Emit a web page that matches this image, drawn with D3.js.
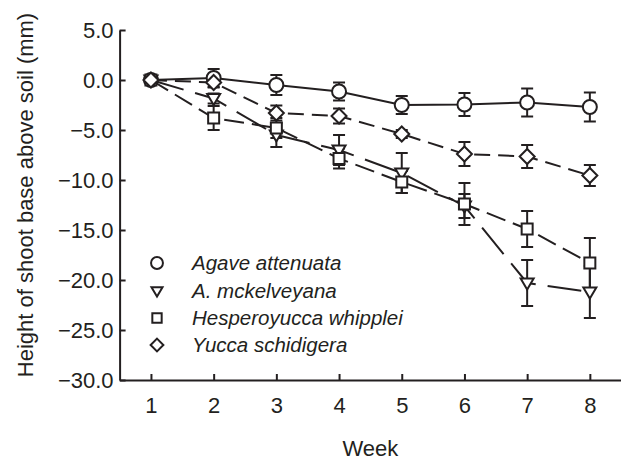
<!DOCTYPE html>
<html><head><meta charset="utf-8">
<script src="https://cdn.jsdelivr.net/npm/d3@7"></script>
<style>body{margin:0;background:#fff}</style>
</head><body><svg id="c" width="621" height="462"></svg>
<script>
const weeks = [1,2,3,4,5,6,7,8];
const species = ["Agave attenuata","A. mckelveyana","Hesperoyucca whipplei","Yucca schidigera"];
const agaveMean = [0, 0.2, -0.5, -1.15, -2.5, -2.45, -2.25, -2.7];
const agaveErr  = [0, 0.9, 1.0, 0.9, 0.9, 1.15, 1.4, 1.45];
const mckelMean = [0, -1.85, -5.5, -7.0, -9.3, -12.6, -20.3, -21.2];
const mckelErr  = [0, 0.5, 1.2, 1.5, 2.0, 1.2, 2.3, 2.6];
const whippMean = [0, -3.8, -4.8, -7.85, -10.2, -12.4, -14.9, -18.3];
const whippErr  = [0, 1.2, 1.0, 1.0, 1.1, 2.1, 1.8, 2.5];
const yuccaMean = [0, -0.25, -3.3, -3.6, -5.4, -7.4, -7.65, -9.55];
const yuccaErr  = [0, 0.5, 0.75, 0.75, 0.4, 1.2, 1.15, 1.05];
const yTicks = [5,0,-5,-10,-15,-20,-25,-30];
const xTitle = "Week";
const yTitle = "Height of shoot base above soil (mm)";

const ink = "#231f20";
const font = "'Liberation Sans', Arial, sans-serif";
const svg = d3.select("#c");
const x = d3.scaleLinear().domain([0.5, 8.5]).range([119.6, 621.2]);
const y = d3.scaleLinear().domain([-30, 5]).range([380, 30]);

const series = [
  {name: species[0], mean: agaveMean, err: agaveErr, shape: "circle", dash: null},
  {name: species[1], mean: mckelMean, err: mckelErr, shape: "triangle", dash: "34,12"},
  {name: species[2], mean: whippMean, err: whippErr, shape: "square", dash: "20,8"},
  {name: species[3], mean: yuccaMean, err: yuccaErr, shape: "diamond", dash: "16,8"}
];

function shapePath(shape, s) {
  s = s || 1;
  if (shape === "circle") { const r = 7*s; return `M${-r},0A${r},${r} 0 1,0 ${r},0A${r},${r} 0 1,0 ${-r},0Z`; }
  if (shape === "square") { const h = 5.5*s; return `M${-h},${-h}H${h}V${h}H${-h}Z`; }
  if (shape === "diamond") { const h = 7.5*s; return `M0,${-h}L${h},0L0,${h}L${-h},0Z`; }
  if (shape === "triangle") { const w = 6.5*s, t = 4.5*s, b = 6.5*s; return `M${-w},${-t}H${w}L0,${b}Z`; }
}

// axes
const yAxis = d3.axisLeft(y).tickValues(yTicks).tickSizeInner(-6).tickSizeOuter(0).tickPadding(6)
  .tickFormat(d => d3.format(".1f")(d).replace("-", "\u2212"));
const gy = svg.append("g").attr("transform", `translate(${x(0.5)},0)`).call(yAxis);
const xAxis = d3.axisBottom(x).tickValues(weeks).tickSizeInner(-6).tickSizeOuter(0).tickPadding(17)
  .tickFormat(d3.format("d"));
const gx = svg.append("g").attr("transform", `translate(0,${y(-30)})`).call(xAxis);
[gx, gy].forEach(g => {
  g.select(".domain").attr("stroke", ink).attr("stroke-width", 2);
  g.selectAll(".tick line").attr("stroke", ink).attr("stroke-width", 2);
  g.selectAll(".tick text").attr("fill", ink).style("font-family", font).style("font-size", "22px");
});
gy.selectAll(".tick text").attr("dy", "0.34em");

// lines
const line = d3.line().x((d, i) => x(weeks[i])).y(d => y(d));
series.forEach(s => {
  svg.append("path").attr("d", line(s.mean)).attr("fill", "none").attr("stroke", ink)
    .attr("stroke-width", 2).attr("stroke-dasharray", s.dash);
});
// error bars
series.forEach(s => {
  const g = svg.append("g").attr("stroke", ink).attr("stroke-width", 2);
  s.mean.forEach((m, i) => {
    if (!s.err[i]) return;
    const cx = x(weeks[i]);
    const top = y(m + s.err[i]), bot = y(m - s.err[i]);
    g.append("line").attr("x1", cx).attr("x2", cx).attr("y1", top).attr("y2", bot);
    g.append("line").attr("x1", cx - 6).attr("x2", cx + 6).attr("y1", top).attr("y2", top);
    g.append("line").attr("x1", cx - 6).attr("x2", cx + 6).attr("y1", bot).attr("y2", bot);
  });
});
// markers
series.forEach(s => {
  svg.append("g").selectAll("path").data(s.mean).join("path")
    .attr("transform", (d, i) => `translate(${x(weeks[i])},${y(d)})`)
    .attr("d", shapePath(s.shape)).attr("fill", "#fff").attr("stroke", ink).attr("stroke-width", 2);
});

// legend
const leg = svg.append("g");
const legY = [263, 291, 318, 345];
series.forEach((s, i) => {
  leg.append("path").attr("transform", `translate(157,${legY[i]})`).attr("d", shapePath(s.shape, 0.85))
    .attr("fill", "#fff").attr("stroke", ink).attr("stroke-width", 2);
  leg.append("text").attr("x", 192).attr("y", legY[i] + 7).text(s.name)
    .attr("fill", ink).style("font-family", font).style("font-style", "italic").style("font-size", "20.5px");
});

// titles
svg.append("text").attr("x", (x(0.5) + x(8.5)) / 2).attr("y", 456).attr("text-anchor", "middle")
  .attr("fill", ink).style("font-family", font).style("font-size", "22px").text(xTitle);
svg.append("text").attr("transform", "translate(33,195) rotate(-90)").attr("text-anchor", "middle")
  .attr("fill", ink).style("font-family", font).style("font-size", "22px").text(yTitle);
</script></body></html>
